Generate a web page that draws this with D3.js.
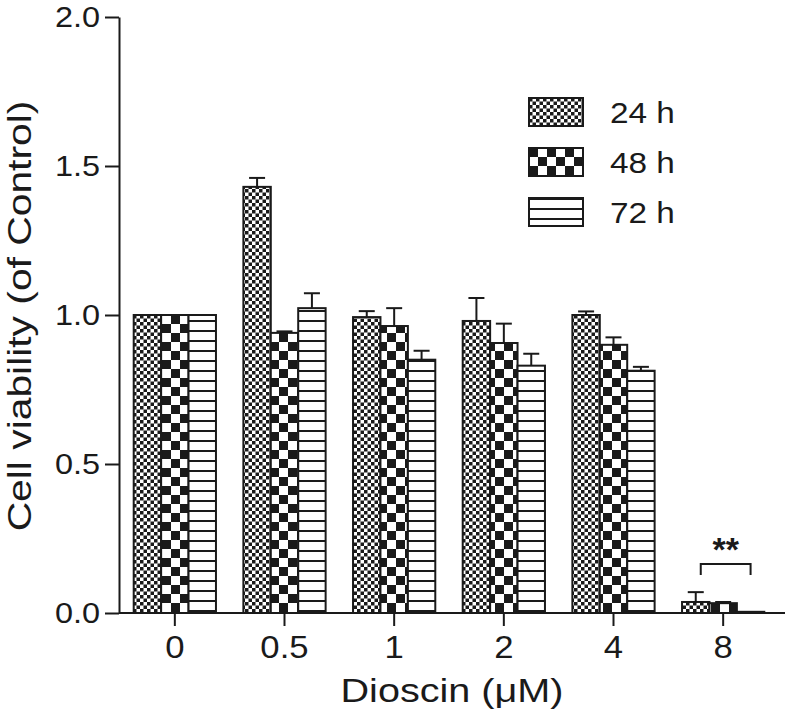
<!DOCTYPE html>
<html>
<head>
<meta charset="utf-8">
<script src="https://cdn.jsdelivr.net/npm/d3@7.9.0/dist/d3.min.js"></script>
<style>
  body { margin: 0; background: #fff; }
  svg { display: block; font-family: "Liberation Sans", Arial, sans-serif; }
</style>
</head>
<body>
<svg id="chart" width="788" height="721"></svg>
<script>
const doses = ['0', '0.5', '1', '2', '4', '8'];
const series = ['24 h', '48 h', '72 h'];
const means24 = [1.0, 1.43, 0.993, 0.98, 1.0, 0.037];
const means48 = [1.0, 0.94, 0.963, 0.906, 0.90, 0.033];
const means72 = [1.0, 1.023, 0.85, 0.83, 0.813, 0.004];
const errs24 = [0, 0.03, 0.02, 0.077, 0.012, 0.033];
const errs48 = [0, 0.005, 0.06, 0.065, 0.025, 0.004];
const errs72 = [0, 0.05, 0.03, 0.04, 0.013, 0];
const yTicks = [0, 0.5, 1.0, 1.5, 2.0];

const means = [means24, means48, means72];
const errs = [errs24, errs48, errs72];

const svg = d3.select('#chart');
const ink = '#1a1a1a';
const stretch = 1.12; // reference lettering is a bit wider than Arial

// patterns for the three series
const defs = svg.append('defs');
let p = defs.append('pattern').attr('id', 'pat0').attr('patternUnits', 'userSpaceOnUse')
    .attr('width', 7).attr('height', 7);
p.append('rect').attr('width', 7).attr('height', 7).attr('fill', '#fff');
p.append('rect').attr('width', 3.5).attr('height', 3.5).attr('fill', ink);
p.append('rect').attr('x', 3.5).attr('y', 3.5).attr('width', 3.5).attr('height', 3.5).attr('fill', ink);

p = defs.append('pattern').attr('id', 'pat1').attr('patternUnits', 'userSpaceOnUse')
    .attr('width', 18).attr('height', 18);
p.append('rect').attr('width', 18).attr('height', 18).attr('fill', '#fff');
p.append('rect').attr('width', 9).attr('height', 9).attr('fill', ink);
p.append('rect').attr('x', 9).attr('y', 9).attr('width', 9).attr('height', 9).attr('fill', ink);

p = defs.append('pattern').attr('id', 'pat2').attr('patternUnits', 'userSpaceOnUse')
    .attr('width', 10).attr('height', 10);
p.append('rect').attr('width', 10).attr('height', 10).attr('fill', '#fff');
p.append('rect').attr('y', 0).attr('width', 10).attr('height', 2).attr('fill', ink);

const y = d3.scaleLinear().domain([0, 2]).range([613, 17]);
const x = d3.scaleBand().domain(doses).range([120, 778]).paddingInner(0.25).paddingOuter(0.125);
const xs = d3.scaleBand().domain(d3.range(series.length)).range([0, x.bandwidth()]);

// bars
series.forEach((s, si) => {
    const g = svg.append('g');
    doses.forEach((d, di) => {
        const v = means[si][di];
        const bx = x(d) + xs(si);
        g.append('rect')
            .attr('x', bx)
            .attr('y', y(v))
            .attr('width', xs.bandwidth())
            .attr('height', y(0) - y(v))
            .attr('fill', `url(#pat${si})`)
            .attr('stroke', ink)
            .attr('stroke-width', 2);
        const e = errs[si][di];
        if (e > 0) {
            const cx = bx + xs.bandwidth() / 2;
            g.append('line').attr('x1', cx).attr('x2', cx)
                .attr('y1', y(v)).attr('y2', y(v + e))
                .attr('stroke', ink).attr('stroke-width', 2);
            g.append('line').attr('x1', cx - 8).attr('x2', cx + 8)
                .attr('y1', y(v + e)).attr('y2', y(v + e))
                .attr('stroke', ink).attr('stroke-width', 2);
        }
    });
});

// axes
const yAxis = svg.append('g').attr('transform', 'translate(119,0)')
    .call(d3.axisLeft(y).tickValues(yTicks).tickFormat(d3.format('.1f')).tickSize(14).tickSizeOuter(0).tickPadding(5));
yAxis.select('.domain').attr('stroke', ink).attr('stroke-width', 2);
yAxis.selectAll('.tick line').attr('stroke', ink).attr('stroke-width', 2);
yAxis.selectAll('.tick text').attr('font-size', 29).attr('fill', ink)
    .attr('font-family', 'Liberation Sans, Arial, sans-serif')
    .attr('x', -19 / stretch).attr('transform', `scale(${stretch},1)`);

const xAxis = svg.append('g').attr('transform', 'translate(0,613)')
    .call(d3.axisBottom(x).tickSize(13).tickSizeOuter(0).tickPadding(10));
xAxis.select('.domain').attr('d', 'M119,0H785').attr('stroke', ink).attr('stroke-width', 2);
xAxis.selectAll('.tick line').attr('stroke', ink).attr('stroke-width', 2);
xAxis.selectAll('.tick text').attr('font-size', 31).attr('fill', ink)
    .attr('font-family', 'Liberation Sans, Arial, sans-serif')
    .attr('transform', `scale(${stretch},1)`);

// axis titles
svg.append('g').attr('transform', 'translate(452,702)')
    .append('text').attr('transform', 'scale(1.2,1)').attr('text-anchor', 'middle')
    .attr('font-size', 33).attr('fill', ink).text('Dioscin (μM)');
svg.append('g').attr('transform', 'translate(31,316) rotate(-90)')
    .append('text').attr('transform', 'scale(1.2,1)').attr('text-anchor', 'middle')
    .attr('font-size', 34).attr('fill', ink).text('Cell viability (of Control)');

// significance bracket over dose 8
const bl = x('8') + xs(0) + xs.bandwidth() / 2 + 5;
const br = x('8') + xs(2) + xs.bandwidth() / 2;
svg.append('path')
    .attr('d', `M${bl},575V564H${br}V575`)
    .attr('fill', 'none').attr('stroke', ink).attr('stroke-width', 2);
svg.append('text').attr('x', (bl + br) / 2).attr('y', 561).attr('text-anchor', 'middle')
    .attr('font-size', 34).attr('font-weight', 'bold').attr('fill', ink).text('**');

// legend
const legend = svg.append('g').attr('transform', 'translate(529,98)');
series.forEach((s, si) => {
    const row = legend.append('g').attr('transform', `translate(0,${si * 50})`);
    row.append('rect').attr('width', 54).attr('height', 28)
        .attr('fill', `url(#pat${si})`).attr('stroke', ink).attr('stroke-width', 2);
    row.append('g').attr('transform', 'translate(81,25)')
        .append('text').attr('transform', 'scale(1.15,1)').attr('font-size', 29)
        .attr('fill', ink).text(s);
});
</script>
</body>
</html>
